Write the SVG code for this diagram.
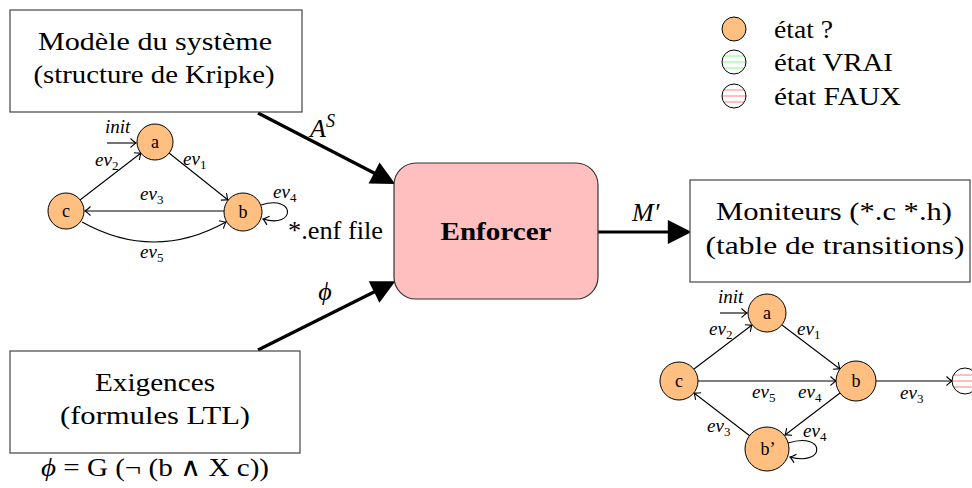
<svg xmlns="http://www.w3.org/2000/svg" width="972" height="488" viewBox="0 0 972 488">
<style>
text{font-family:"Liberation Serif","DejaVu Serif",serif;fill:#000}
.box{fill:#fff;stroke:#444;stroke-width:1.2}
.big{font-size:26px}
.leg{font-size:25px}
.st{fill:#ffbf80;stroke:#000;stroke-width:1}
.nl{font-size:18px;text-anchor:middle}
.el{font-size:19px;font-style:italic}
.sub{font-size:13px;font-style:normal}
.thin{fill:none;stroke:#000;stroke-width:1.1}
.thick{fill:none;stroke:#000;stroke-width:3.2}
.mi{font-style:italic}
</style>
<defs>
<marker id="ah" markerUnits="userSpaceOnUse" markerWidth="12" markerHeight="12" viewBox="-7 -6 8 12" refX="0" refY="0" orient="auto">
<path d="M-5.5,-4.5 Q-1.5,-0.8 0,0 Q-1.5,0.8 -5.5,4.5" fill="none" stroke="#000" stroke-width="1.1"/>
</marker>
<marker id="big" markerUnits="userSpaceOnUse" markerWidth="26" markerHeight="26" viewBox="-2 -12 24 24" refX="2" refY="0" orient="auto">
<path d="M0,-11 L22,0 L0,11 Z" fill="#000"/>
</marker>
<clipPath id="cg"><circle cx="734" cy="62" r="12"/></clipPath>
<clipPath id="cr"><circle cx="734" cy="96" r="12"/></clipPath>
<clipPath id="cr2"><circle cx="965" cy="381" r="13"/></clipPath>
</defs>

<g id="connectors">
<line class="thick" x1="258" y1="113" x2="376" y2="174" marker-end="url(#big)"/>
<line class="thick" x1="258" y1="350" x2="376" y2="291" marker-end="url(#big)"/>
<line class="thick" x1="598" y1="232" x2="670" y2="232" marker-end="url(#big)"/>
<text class="mi" x="310" y="137" font-size="26">A<tspan font-size="18" dy="-10">S</tspan></text>
<text class="mi" x="325" y="300" font-size="26" text-anchor="middle">ϕ</text>
<text class="mi" x="632" y="221" font-size="26">M′</text>
<text x="288" y="239" font-size="26" textLength="95" lengthAdjust="spacingAndGlyphs">*.enf file</text>
</g>

<g id="modele">
<rect class="box" x="10" y="10" width="292" height="102"/>
<text class="big" x="155" y="50" text-anchor="middle" textLength="234" lengthAdjust="spacingAndGlyphs">Modèle du système</text>
<text class="big" x="154" y="83" text-anchor="middle" textLength="241" lengthAdjust="spacingAndGlyphs">(structure de Kripke)</text>
</g>

<g id="exigences">
<rect class="box" x="10" y="351" width="290" height="102"/>
<text class="big" x="155" y="391" text-anchor="middle" textLength="120" lengthAdjust="spacingAndGlyphs">Exigences</text>
<text class="big" x="155" y="424" text-anchor="middle" textLength="190" lengthAdjust="spacingAndGlyphs">(formules LTL)</text>
<text class="big" x="155" y="476" text-anchor="middle" textLength="228" lengthAdjust="spacingAndGlyphs"><tspan font-style="italic">ϕ</tspan> = G (¬ (b ∧ X c))</text>
</g>

<g id="enforcer">
<rect x="394" y="163" width="204" height="136" rx="22" ry="22" fill="#ffbfbf" stroke="#333" stroke-width="1.2"/>
<text x="496" y="240" font-size="26" font-weight="bold" text-anchor="middle" textLength="111" lengthAdjust="spacingAndGlyphs">Enforcer</text>
</g>

<g id="moniteurs">
<rect class="box" x="690" y="180" width="280" height="102"/>
<text class="big" x="834" y="220" text-anchor="middle" textLength="236" lengthAdjust="spacingAndGlyphs">Moniteurs (*.c *.h)</text>
<text class="big" x="835" y="254" text-anchor="middle" textLength="259" lengthAdjust="spacingAndGlyphs">(table de transitions)</text>
</g>

<g id="legend">
<circle class="st" cx="734" cy="29" r="12"/>
<text class="leg" x="774" y="38" textLength="59" lengthAdjust="spacingAndGlyphs">état ?</text>
<circle cx="734" cy="62" r="12" fill="#fff"/>
<g clip-path="url(#cg)" stroke="#80ff80" stroke-width="1.2"><line x1="720" y1="56" x2="748" y2="56"/><line x1="720" y1="62" x2="748" y2="62"/><line x1="720" y1="68" x2="748" y2="68"/></g>
<circle cx="734" cy="62" r="12" fill="none" stroke="#000"/>
<text class="leg" x="774" y="71" textLength="119" lengthAdjust="spacingAndGlyphs">état VRAI</text>
<circle cx="734" cy="96" r="12" fill="#fff"/>
<g clip-path="url(#cr)" stroke="#ff8080" stroke-width="1.2"><line x1="720" y1="90" x2="748" y2="90"/><line x1="720" y1="96" x2="748" y2="96"/><line x1="720" y1="102" x2="748" y2="102"/></g>
<circle cx="734" cy="96" r="12" fill="none" stroke="#000"/>
<text class="leg" x="774" y="105" textLength="127" lengthAdjust="spacingAndGlyphs">état FAUX</text>
</g>

<g id="kripke-graph">
<g id="kripke-edges">
<line class="thin" x1="107" y1="143" x2="136" y2="143" marker-end="url(#ah)"/>
<text class="el" x="105" y="133">init</text>
<line class="thin" x1="80" y1="200" x2="141" y2="153" marker-end="url(#ah)"/>
<text class="el" x="95" y="166">ev<tspan class="sub" dy="4">2</tspan></text>
<line class="thin" x1="169" y1="153" x2="228" y2="200" marker-end="url(#ah)"/>
<text class="el" x="183" y="165">ev<tspan class="sub" dy="4">1</tspan></text>
<line class="thin" x1="224" y1="211" x2="85" y2="211" marker-end="url(#ah)"/>
<text class="el" x="140" y="200">ev<tspan class="sub" dy="4">3</tspan></text>
<path class="thin" d="M82,222 Q154,262 226,222" marker-end="url(#ah)"/>
<text class="el" x="140" y="258">ev<tspan class="sub" dy="4">5</tspan></text>
<path class="thin" d="M261,205 C296,194 296,229 263,219" marker-end="url(#ah)"/>
<text class="el" x="273" y="198">ev<tspan class="sub" dy="4">4</tspan></text>
</g>
<g id="k-a"><circle class="st" cx="155" cy="142" r="18"/><text class="nl" x="155" y="148">a</text></g>
<g id="k-b"><circle class="st" cx="243" cy="212" r="19"/><text class="nl" x="243" y="218">b</text></g>
<g id="k-c"><circle class="st" cx="66" cy="211" r="18"/><text class="nl" x="66" y="217">c</text></g>
</g>

<g id="monitor-graph">
<g id="monitor-edges">
<line class="thin" x1="720" y1="313" x2="747" y2="313" marker-end="url(#ah)"/>
<text class="el" x="718" y="303">init</text>
<line class="thin" x1="694" y1="369" x2="752" y2="325" marker-end="url(#ah)"/>
<text class="el" x="709" y="335">ev<tspan class="sub" dy="4">2</tspan></text>
<line class="thin" x1="782" y1="325" x2="840" y2="369" marker-end="url(#ah)"/>
<text class="el" x="797" y="335">ev<tspan class="sub" dy="4">1</tspan></text>
<line class="thin" x1="698" y1="381" x2="836" y2="381" marker-end="url(#ah)"/>
<text class="el" x="752" y="398">ev<tspan class="sub" dy="4">5</tspan></text>
<line class="thin" x1="840" y1="393" x2="785" y2="435" marker-end="url(#ah)"/>
<text class="el" x="798" y="398">ev<tspan class="sub" dy="4">4</tspan></text>
<line class="thin" x1="750" y1="436" x2="694" y2="393" marker-end="url(#ah)"/>
<text class="el" x="707" y="432">ev<tspan class="sub" dy="4">3</tspan></text>
<path class="thin" d="M788,443 C826,431 826,467 790,457" marker-end="url(#ah)"/>
<text class="el" x="803" y="437">ev<tspan class="sub" dy="4">4</tspan></text>
<line class="thin" x1="876" y1="381" x2="952" y2="381" marker-end="url(#ah)"/>
<text class="el" x="900" y="399">ev<tspan class="sub" dy="4">3</tspan></text>
</g>
<g id="m-a"><circle class="st" cx="767" cy="313" r="19"/><text class="nl" x="767" y="319">a</text></g>
<g id="m-c"><circle class="st" cx="679" cy="381" r="19"/><text class="nl" x="679" y="387">c</text></g>
<g id="m-b"><circle class="st" cx="856" cy="381" r="20"/><text class="nl" x="856" y="387">b</text></g>
<g id="m-bp"><circle class="st" cx="767" cy="449" r="22"/><text class="nl" x="768" y="455">b’</text></g>
<g id="m-faux">
<circle cx="965" cy="381" r="13" fill="#fff"/>
<g clip-path="url(#cr2)" stroke="#ff8080" stroke-width="1.2"><line x1="950" y1="375" x2="980" y2="375"/><line x1="950" y1="381" x2="980" y2="381"/><line x1="950" y1="387" x2="980" y2="387"/></g>
<circle cx="965" cy="381" r="13" fill="none" stroke="#000"/>
</g>
</g>
</svg>
